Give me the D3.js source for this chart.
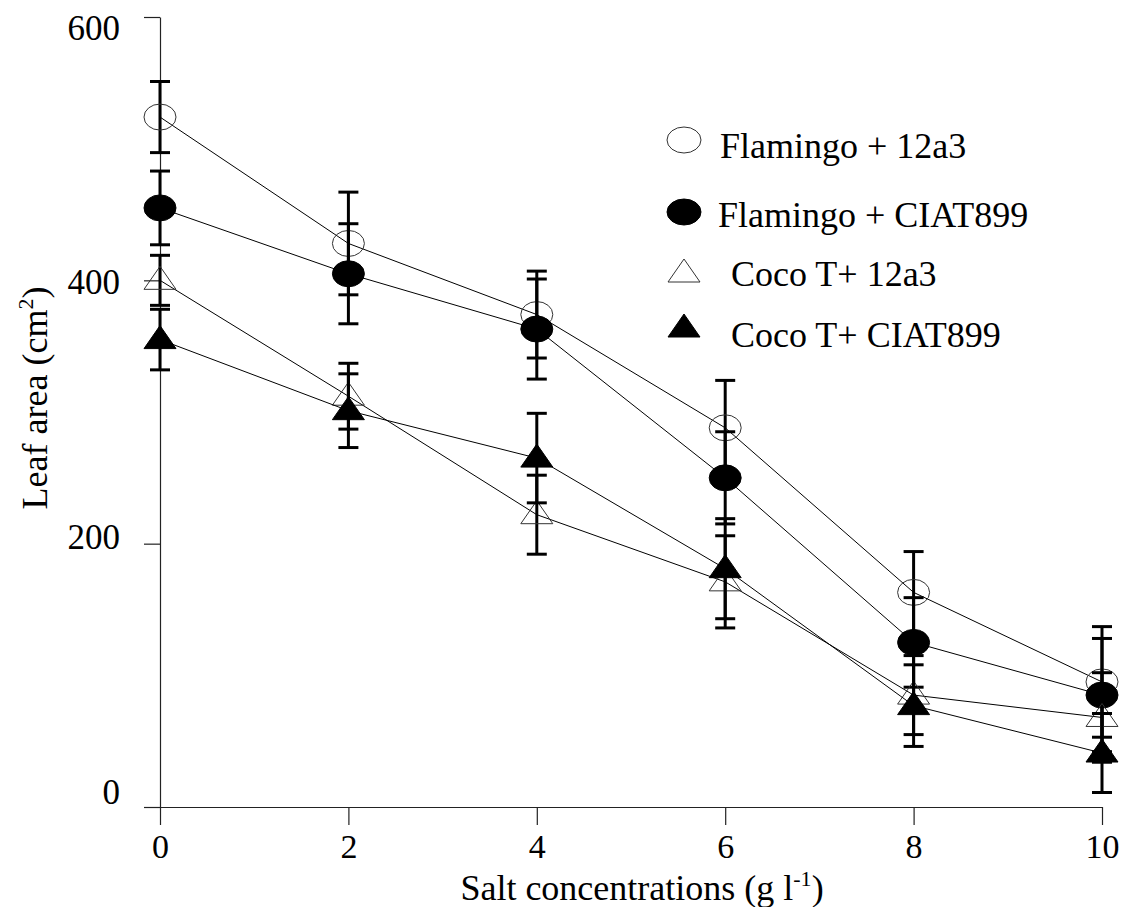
<!DOCTYPE html>
<html>
<head>
<meta charset="utf-8">
<script src="https://cdn.jsdelivr.net/npm/d3@7"></script>
<style>
  body { margin: 0; background: #fff; }
  svg { display: block; }
  text { font-family: "Liberation Serif", "Times New Roman", serif; fill: #000; }
</style>
</head>
<body>
<div class="canvas"></div>
<script>
// Datas
const salt = [0, 2, 4, 6, 8, 10];
const flamingo12a3 = [524, 428, 374, 288, 163, 95];
const flamingo12a3Err = [27, 39, 33, 36, 31, 42];
const flamingoCiat = [455, 405, 363, 250, 125, 85];
const flamingoCiatErr = [28, 38, 38, 35, 34, 43];
const coco12a3 = [400, 312, 222, 171, 85, 68];
const coco12a3Err = [19, 25, 30, 35, 30, 34];
const cocoCiat = [355, 301, 265, 181, 77, 41];
const cocoCiatErr = [23, 28, 34, 38, 31, 30];
const seriesNames = ['Flamingo + 12a3', 'Flamingo + CIAT899', '\u00a0Coco T+ 12a3', '\u00a0Coco T+ CIAT899'];
const yTicks = [0, 200, 400, 600];
const xTicks = [0, 2, 4, 6, 8, 10];

// Graph
const dims = { width: 1122, height: 907, left: 160, right: 1102, top: 17, bottom: 807 };

const svg = d3.select('.canvas')
    .append('svg')
    .attr('width', dims.width)
    .attr('height', dims.height);

const x = d3.scaleLinear().domain([0, 10]).range([dims.left, dims.right]);
const y = d3.scaleLinear().domain([0, 600]).range([dims.bottom, dims.top]);
// tick labels in the original sit on a slightly squeezed scale
const yLabel = d3.scaleLinear().domain([0, 600]).range([792, 28]);

// Axes
const yAxis = svg.append('g')
    .attr('transform', `translate(${dims.left}, 0)`)
    .call(d3.axisLeft(y).tickValues(yTicks).tickSize(16).tickSizeOuter(0).tickPadding(24));

const xAxis = svg.append('g')
    .attr('transform', `translate(0, ${dims.bottom})`)
    .call(d3.axisBottom(x).tickValues(xTicks).tickSize(18).tickSizeOuter(0).tickPadding(9));

[yAxis, xAxis].forEach(ax => {
    ax.selectAll('path, line').attr('stroke', '#222').attr('stroke-width', 1.2);
    ax.selectAll('text').attr('font-size', 35).attr('font-family', '"Liberation Serif", serif');
});
xAxis.selectAll('text').attr('font-size', 34);

yAxis.selectAll('.tick text')
    .attr('y', d => yLabel(d) - y(d));

// Axis titles
const xTitle = svg.append('text')
    .attr('x', 642)
    .attr('y', 900)
    .attr('text-anchor', 'middle')
    .attr('font-size', 36);
xTitle.append('tspan').text('Salt concentrations (g l');
xTitle.append('tspan').attr('font-size', 22).attr('dy', -14).text('-1');
xTitle.append('tspan').attr('dy', 14).text(')');

const yTitle = svg.append('text')
    .attr('transform', 'translate(47, 398) rotate(-90)')
    .attr('text-anchor', 'middle')
    .attr('font-size', 36);
yTitle.append('tspan').text('Leaf area (cm');
yTitle.append('tspan').attr('font-size', 22).attr('dy', -14).text('2');
yTitle.append('tspan').attr('dy', 14).text(')');

// Markers
const triPath = 'M0,-14L16,9L-16,9Z';
const series = [
    { name: seriesNames[0], values: flamingo12a3, errs: flamingo12a3Err, shape: 'circle', filled: false },
    { name: seriesNames[1], values: flamingoCiat, errs: flamingoCiatErr, shape: 'circle', filled: true },
    { name: seriesNames[2], values: coco12a3, errs: coco12a3Err, shape: 'triangle', filled: false },
    { name: seriesNames[3], values: cocoCiat, errs: cocoCiatErr, shape: 'triangle', filled: true }
];

function drawMarker(g, s) {
    if (s.shape === 'circle') {
        g.append('ellipse').attr('rx', 16).attr('ry', 13);
    } else {
        g.append('path').attr('d', triPath);
    }
    g.selectAll('ellipse, path')
        .attr('fill', s.filled ? '#000' : 'none')
        .attr('stroke', s.filled ? '#000' : '#333')
        .attr('stroke-width', 1);
}

const line = d3.line().x(d => x(d.x)).y(d => y(d.v));

series.forEach(s => {
    const pts = salt.map((sx, i) => ({ x: sx, v: s.values[i], e: s.errs[i] }));
    const g = svg.append('g').attr('class', 'series');

    g.append('path')
        .datum(pts)
        .attr('fill', 'none')
        .attr('stroke', '#000')
        .attr('stroke-width', 1)
        .attr('d', line);

    const bars = g.selectAll('.err').data(pts).enter().append('g').attr('class', 'err');
    bars.append('line')
        .attr('x1', d => x(d.x)).attr('x2', d => x(d.x))
        .attr('y1', d => y(d.v + d.e)).attr('y2', d => y(d.v - d.e));
    bars.append('line')
        .attr('x1', d => x(d.x) - 10).attr('x2', d => x(d.x) + 10)
        .attr('y1', d => y(d.v + d.e)).attr('y2', d => y(d.v + d.e));
    bars.append('line')
        .attr('x1', d => x(d.x) - 10).attr('x2', d => x(d.x) + 10)
        .attr('y1', d => y(d.v - d.e)).attr('y2', d => y(d.v - d.e));
    bars.selectAll('line').attr('stroke', '#000').attr('stroke-width', 3);

    g.selectAll('.mark').data(pts).enter().append('g')
        .attr('class', 'mark')
        .attr('transform', d => `translate(${x(d.x)}, ${y(d.v)})`)
        .each(function() { drawMarker(d3.select(this), s); });
});

// Legend
const legendRows = [
    { mx: 684, my: 140, tx: 720, ty: 158 },
    { mx: 684, my: 212, tx: 718, ty: 227 },
    { mx: 684, my: 273, tx: 722, ty: 286 },
    { mx: 684, my: 328, tx: 722, ty: 347 }
];

series.forEach((s, i) => {
    const r = legendRows[i];
    const m = svg.append('g').attr('transform', `translate(${r.mx}, ${r.my})`);
    drawMarker(m, s);
    if (s.shape === 'circle') m.select('ellipse').attr('rx', 17).attr('ry', 13);
    svg.append('text')
        .attr('x', r.tx)
        .attr('y', r.ty)
        .attr('font-size', 36)
        .text(s.name);
});
</script>
</body>
</html>
